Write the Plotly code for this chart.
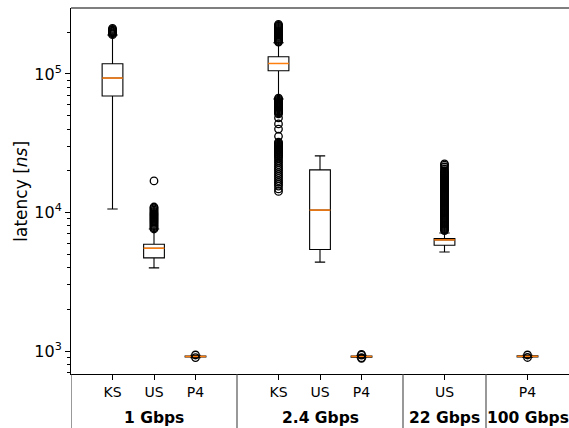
import plotly.graph_objects as go

# ---- data ----
groups = ["1 Gbps", "2.4 Gbps", "22 Gbps", "100 Gbps"]
group_members = [["KS", "US", "P4"], ["KS", "US", "P4"], ["US"], ["P4"]]

q1 = [69300, 4700, 905, 105500, 5400, 903, 5800, 905]
median = [93400, 5520, 913, 119000, 10400, 913, 6340, 915]
q3 = [118500, 5900, 921, 133000, 20300, 921, 6470, 922]
lower_whisker = [10600, 3980, 895, 65900, 4380, 893, 5190, 897]
upper_whisker = [191000, 7600, 930, 168000, 25600, 932, 7110, 930]

out_ks_1 = [192000, 195000, 198000, 201000, 204000, 207000, 210000, 213000]
out_us_1 = [16900, 10950, 10800, 10600, 10400, 10200, 10000, 9850, 9700,
            9550, 9400, 9250, 9100, 8950, 8800, 8650, 8500, 8350, 8200, 8050,
            7900, 7750, 7600]
out_p4_1 = [936, 897]
out_ks_24 = [170000, 172500, 175000, 178000, 181000, 184000, 187000, 190000,
             193000, 196000, 199500, 203000, 206500, 210000, 213500, 217000,
             221000, 224500, 228000,
             67000, 65900, 64800, 63700, 62700, 61700, 60700, 59700, 58700,
             57800, 56800, 55900, 55000, 54100, 53200, 52300, 51500,
             48100, 43600, 40000, 35500,
             32200, 31700, 31200, 30700, 30200, 29700, 29200, 28700, 28200,
             27800, 27300, 26900, 26400, 26000, 25600, 25100,
             24400, 23600, 22900, 22100, 21400, 20700, 20100, 19400, 18800,
             18200, 17600, 17000, 16500, 16000, 15500, 14800, 14200]
out_us_24 = []
out_p4_24 = [945, 935, 895, 885]
out_us_22 = [7400, 7520, 7650, 7780, 7910, 8050, 8180, 8320, 8460, 8600,
             8750, 8900, 9050, 9200, 9360, 9520, 9680, 9840, 10000, 10170,
             10350, 10520, 10700, 10880, 11070, 11250, 11440, 11640, 11830,
             12040, 12240, 12450, 12660, 12870, 13090, 13310, 13540, 13770,
             14000, 14240, 14480, 14730, 14980, 15230, 15490, 15750, 16020,
             16290, 16570, 16850, 17130, 17420, 17720, 18020, 18330, 18640,
             18950, 19270, 19600, 20000, 20600, 21300, 22000, 22400]
out_p4_100 = [936, 898]
outliers = [out_ks_1, out_us_1, out_p4_1, out_ks_24, out_us_24, out_p4_24,
            out_us_22, out_p4_100]

# ---- layout of categories along x ----
positions, tick_labels, boundaries, centers = [], [], [0], []
cursor = 0
for members in group_members:
    start = cursor
    for m in members:
        cursor += 1
        positions.append(cursor)
        tick_labels.append(m)
    centers.append((start + 1 + cursor) / 2)
    cursor += 1
    boundaries.append(cursor)
x_max = cursor

BOX_W = 0.5
FONT = "DejaVu Sans"

fig = go.Figure()

fig.add_trace(go.Box(
    x=positions, q1=q1, median=median, q3=q3,
    lowerfence=lower_whisker, upperfence=upper_whisker,
    boxpoints=False, width=BOX_W, whiskerwidth=0.5,
    line=dict(color="black", width=1.1), fillcolor="rgba(255,255,255,0)",
    showlegend=False, hoverinfo="skip",
))

mx, my = [], []
for p, m in zip(positions, median):
    mx += [p - BOX_W / 2, p + BOX_W / 2, None]
    my += [m, m, None]
fig.add_trace(go.Scatter(x=mx, y=my, mode="lines",
                         line=dict(color="#ff7f0e", width=1.5),
                         showlegend=False, hoverinfo="skip"))

ox, oy = [], []
for p, vals in zip(positions, outliers):
    ox += [p] * len(vals)
    oy += vals
fig.add_trace(go.Scatter(x=ox, y=oy, mode="markers",
                         marker=dict(symbol="circle-open", size=7.5,
                                     color="black", line=dict(width=1.3)),
                         showlegend=False, hoverinfo="skip"))

shapes = [dict(type="line", xref="paper", yref="paper", x0=0, x1=1.01,
               y0=1, y1=1, line=dict(color="black", width=1.1))]
for b in boundaries[:-1]:
    shapes.append(dict(type="line", xref="x", yref="paper", x0=b, x1=b,
                       y0=0, y1=-0.16, line=dict(color="#444444", width=1.1)))

annotations = [dict(text=g, x=c, xref="x", y=-0.1194, yref="paper",
                    xanchor="center", yanchor="middle", showarrow=False,
                    font=dict(family=FONT, size=15.5, color="black"),
                    ) for g, c in zip(["<b>%s</b>" % g for g in groups], centers)]
annotations.append(dict(text="latency [<i>ns</i>]", x=(20.7 - 71) / 498,
                        xref="paper", y=0.5, yref="paper", textangle=-90,
                        xanchor="center", yanchor="middle", showarrow=False,
                        font=dict(family=FONT, size=17, color="black")))

minor_vals = [m * 10 ** e for e in (2, 3, 4, 5) for m in range(2, 10)]

fig.update_layout(
    width=569, height=428,
    margin=dict(l=71, r=0, t=8, b=54),
    plot_bgcolor="white", paper_bgcolor="white",
    font=dict(family=FONT, color="black"),
    shapes=shapes, annotations=annotations,
    xaxis=dict(range=[0, x_max], tickvals=positions, ticktext=tick_labels,
               showgrid=False, zeroline=False, showline=True, mirror=False,
               linecolor="black", linewidth=1.1, ticks="outside", ticklen=5,
               tickwidth=1.1, tickcolor="black",
               tickfont=dict(family=FONT, size=14, color="black")),
    yaxis=dict(type="log", range=[2.834, 5.476],
               tickvals=[1e3, 1e4, 1e5],
               ticktext=["10<sup>3</sup>", "10<sup>4</sup>", "10<sup>5</sup>"],
               showgrid=False, zeroline=False, showline=True, mirror=False,
               linecolor="black", linewidth=1.1, ticks="outside", ticklen=5,
               tickwidth=1.1, tickcolor="black",
               tickfont=dict(family=FONT, size=16, color="black"),
               minor=dict(tickvals=minor_vals, ticks="outside", ticklen=3,
                          tickwidth=0.8, tickcolor="black", showgrid=False)),
)

fig.write_html("out.html",
               config={"displayModeBar": False},
               post_script="document.body.style.margin='0';"
                           "document.body.style.padding='0';"
                           "document.body.style.overflow='hidden';"
                           "document.documentElement.style.overflow='hidden';")
